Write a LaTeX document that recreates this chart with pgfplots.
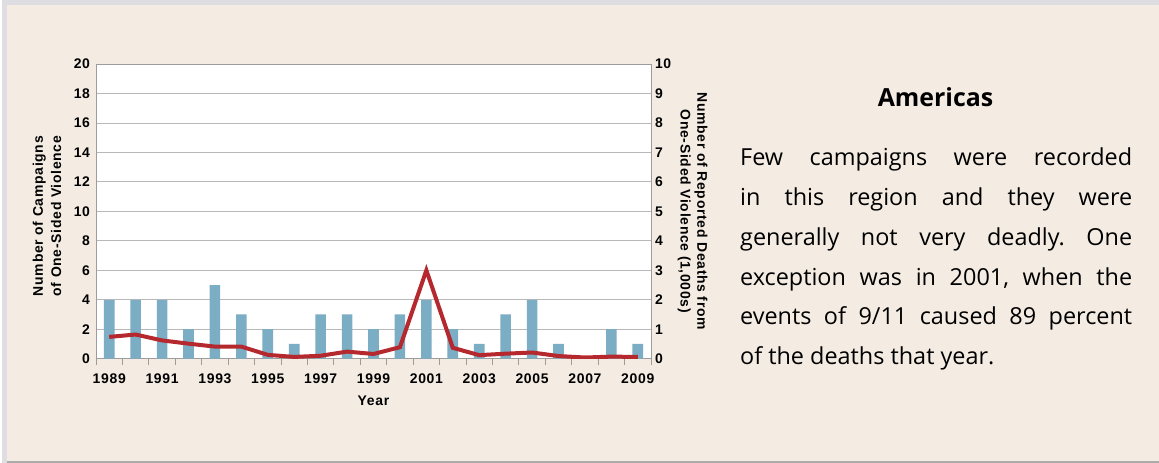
\documentclass[border=0pt]{standalone}
\usepackage{fontspec}
\setmainfont{Liberation Sans}
\newfontfamily\axfont[LetterSpace=5]{Liberation Sans}
\newfontfamily\bodyfont{Open Sans}
\usepackage{pgfplots}
\pgfplotsset{compat=1.18}
\frenchspacing
\definecolor{bg}{HTML}{F4ECE3}
\definecolor{shadowgray}{HTML}{DEDEE2}
\definecolor{bottomgray}{HTML}{ABABAB}
\definecolor{barblue}{HTML}{7BADC4}
\definecolor{linered}{HTML}{B5282E}
\definecolor{gridgray}{HTML}{B8B8B8}
\definecolor{axisgray}{HTML}{9C9C9C}
\begin{document}
\begin{tikzpicture}
\begin{scope}[x=1bp,y=1bp]
\path[use as bounding box] (0,0) rectangle (1159,463);
\fill[white] (0,0) rectangle (1159,463);
\fill[shadowgray] (2,0) rectangle (1159,463);
\fill[bg] (7,2) rectangle (1159,458);
\fill[bottomgray] (7,0) rectangle (1159,2);
\end{scope}

\begin{axis}[
  at={(96bp,104.3bp)}, anchor=south west,
  width=555bp, height=294.7bp, scale only axis,
  xmin=-0.5, xmax=20.5, ymin=0, ymax=20,
  axis background/.style={fill=white},
  axis line style={draw=axisgray, line width=0.8bp},
  ytick={0,2,...,20},
  ymajorgrids, grid style={draw=gridgray, line width=0.8bp},
  xtick={0,2,...,20},
  xticklabels={1989,1991,1993,1995,1997,1999,2001,2003,2005,2007,2009},
  minor xtick={-0.5,0.5,...,20.5},
  major tick length=0pt, minor tick length=6bp,
  tick align=outside, xtick pos=bottom, ytick pos=left,
  minor tick style={draw=axisgray, line width=0.8bp},
  /pgf/number format/assume math mode=true,
  tick label style={font=\axfont\bfseries\fontsize{14}{14}\selectfont},
  xticklabel style={yshift=-12bp},
  yticklabel style={xshift=-2.5bp},
  xlabel={Year},
  xlabel style={at={(axis description cs:0.5,-0.1435)}, anchor=center, font=\axfont\bfseries\fontsize{14}{14}\selectfont},
  ylabel={Number of Campaigns\\of One-Sided Violence},
  ylabel style={at={(axis description cs:-0.0884,0.484)}, anchor=center, align=center, font=\axfont\bfseries\fontsize{14}{18.3}\selectfont},
]
\addplot[ybar, bar width=10.6bp, fill=barblue, draw=none] coordinates {
(0,4) (1,4) (2,4) (3,2) (4,5) (5,3) (6,2) (7,1) (8,3) (9,3) (10,2)
(11,3) (12,4) (13,2) (14,1) (15,3) (16,4) (17,1) (18,0) (19,2) (20,1)
};
\end{axis}

\begin{axis}[
  at={(96bp,104.3bp)}, anchor=south west,
  width=555bp, height=294.7bp, scale only axis,
  xmin=-0.5, xmax=20.5, ymin=0, ymax=10,
  axis x line=none, axis y line*=right,
  axis line style={draw=axisgray, line width=0.8bp},
  ytick={0,1,...,10},
  major tick length=0pt,
  /pgf/number format/assume math mode=true,
  tick label style={font=\axfont\bfseries\fontsize{14}{14}\selectfont},
  yticklabel style={xshift=0.5bp},
  ylabel={Number of Reported Deaths from\\One-Sided Violence (1,000s)},
  ylabel style={rotate=180, at={(axis description cs:1.075,0.5)}, anchor=center, align=center, font=\axfont\bfseries\fontsize{14}{17}\selectfont},
]
\addplot[linered, line width=4bp, mark=none] coordinates {
(0,0.74) (1,0.82) (2,0.62) (3,0.51) (4,0.41) (5,0.41) (6,0.13) (7,0.06)
(8,0.10) (9,0.24) (10,0.16) (11,0.39) (12,3.0) (13,0.37) (14,0.12)
(15,0.17) (16,0.21) (17,0.09) (18,0.04) (19,0.07) (20,0.06)
};
\end{axis}

\begin{scope}[x=1bp,y=1bp]
\node[anchor=base, inner sep=0, font=\bodyfont\bfseries\fontsize{25}{28}\selectfont] at (935.5,356.3) {Americas};
\begin{scope}[every node/.style={anchor=base west, inner sep=0, font=\bodyfont\fontsize{23.5}{26}\selectfont}]
\node at (740,297) {\makebox[392bp][s]{Few campaigns were recorded}};
\node at (740,257.3) {\makebox[392bp][s]{in this region and they were}};
\node at (740,217.6) {\makebox[392bp][s]{generally not very deadly. One}};
\node at (740,177.9) {\makebox[392bp][s]{exception was in 2001, when the}};
\node at (740,138.2) {\makebox[392bp][s]{events of 9/11 caused 89 percent}};
\node at (740,98.5) {of the deaths that year.};
\end{scope}
\end{scope}
\end{tikzpicture}
\end{document}
